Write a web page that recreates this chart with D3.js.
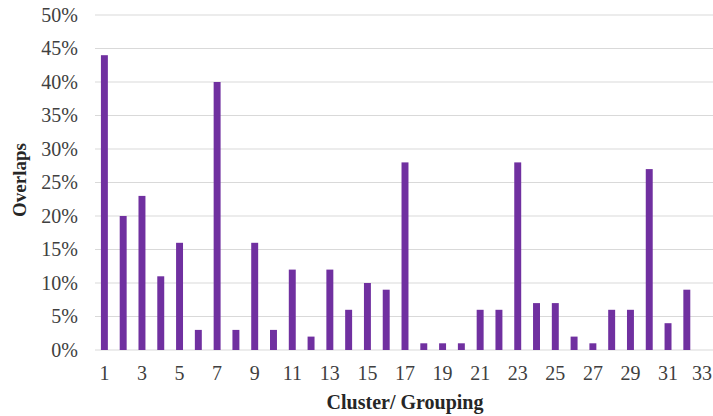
<!DOCTYPE html>
<html>
<head>
<meta charset="utf-8">
<script src="https://cdn.jsdelivr.net/npm/d3@7"></script>
<style>
  html, body { margin: 0; padding: 0; background: #fff; overflow: hidden; }
  svg { display: block; }
</style>
</head>
<body>
<svg id="chart" width="713" height="416"></svg>
<script>
const categories = d3.range(1, 34).map(String);
const overlaps = [0.44, 0.20, 0.23, 0.11, 0.16, 0.03, 0.40, 0.03, 0.16, 0.03,
                  0.12, 0.02, 0.12, 0.06, 0.10, 0.09, 0.28, 0.01, 0.01, 0.01,
                  0.06, 0.06, 0.28, 0.07, 0.07, 0.02, 0.01, 0.06, 0.06, 0.27,
                  0.04, 0.09, 0.00];
const yTicks = [0, 0.05, 0.10, 0.15, 0.20, 0.25, 0.30, 0.35, 0.40, 0.45, 0.50];
const xTickLabels = categories.filter((d, i) => i % 2 === 0);
const xTitle = "Cluster/ Grouping";
const yTitle = "Overlaps";

const svg = d3.select("#chart");
const font = "'Liberation Serif', 'Times New Roman', serif";

const x = d3.scaleBand().domain(categories).range([95, 715])
  .paddingInner(0.63).paddingOuter(0.315);
const y = d3.scaleLinear().domain([0, 0.5]).range([350, 15]);

// gridlines
svg.append("g").selectAll("line").data(yTicks).join("line")
  .attr("x1", 95).attr("x2", 713)
  .attr("y1", d => y(d)).attr("y2", d => y(d))
  .attr("stroke", "#d9d9d9").attr("stroke-width", 1.2);

// y axis labels
const yAxis = d3.axisLeft(y).tickValues(yTicks).tickFormat(d3.format(".0%")).tickSize(0).tickPadding(0);
const gy = svg.append("g").attr("transform", "translate(78,0)").call(yAxis);
gy.select(".domain").remove();
gy.selectAll("text").attr("font-family", font).attr("font-size", 20).attr("fill", "#404040");

// bars
svg.append("g").selectAll("rect").data(categories).join("rect")
  .attr("x", d => x(d))
  .attr("width", x.bandwidth())
  .attr("y", (d, i) => y(overlaps[i]))
  .attr("height", (d, i) => y(0) - y(overlaps[i]))
  .attr("fill", "#7030A0");

// x axis labels
const xAxis = d3.axisBottom(x).tickValues(xTickLabels).tickSize(0).tickPadding(0);
const gx = svg.append("g").attr("transform", "translate(0,366)").call(xAxis);
gx.select(".domain").remove();
gx.selectAll("text").attr("font-family", font).attr("font-size", 20).attr("fill", "#404040").attr("dy", "0.71em");
// keep the last label inside the picture
gx.selectAll("text").filter(d => d === categories[categories.length - 1])
  .attr("text-anchor", "end").attr("x", 713 - x(categories[categories.length - 1]) - x.bandwidth() / 2 - 1);

// titles
svg.append("text").attr("x", 405).attr("y", 409).attr("text-anchor", "middle")
  .attr("font-family", font).attr("font-size", 20).attr("font-weight", "bold").attr("fill", "#262626")
  .text(xTitle);
svg.append("text").attr("transform", "translate(26,180) rotate(-90)").attr("text-anchor", "middle")
  .attr("font-family", font).attr("font-size", 19).attr("font-weight", "bold").attr("fill", "#262626")
  .text(yTitle);
</script>
</body>
</html>
